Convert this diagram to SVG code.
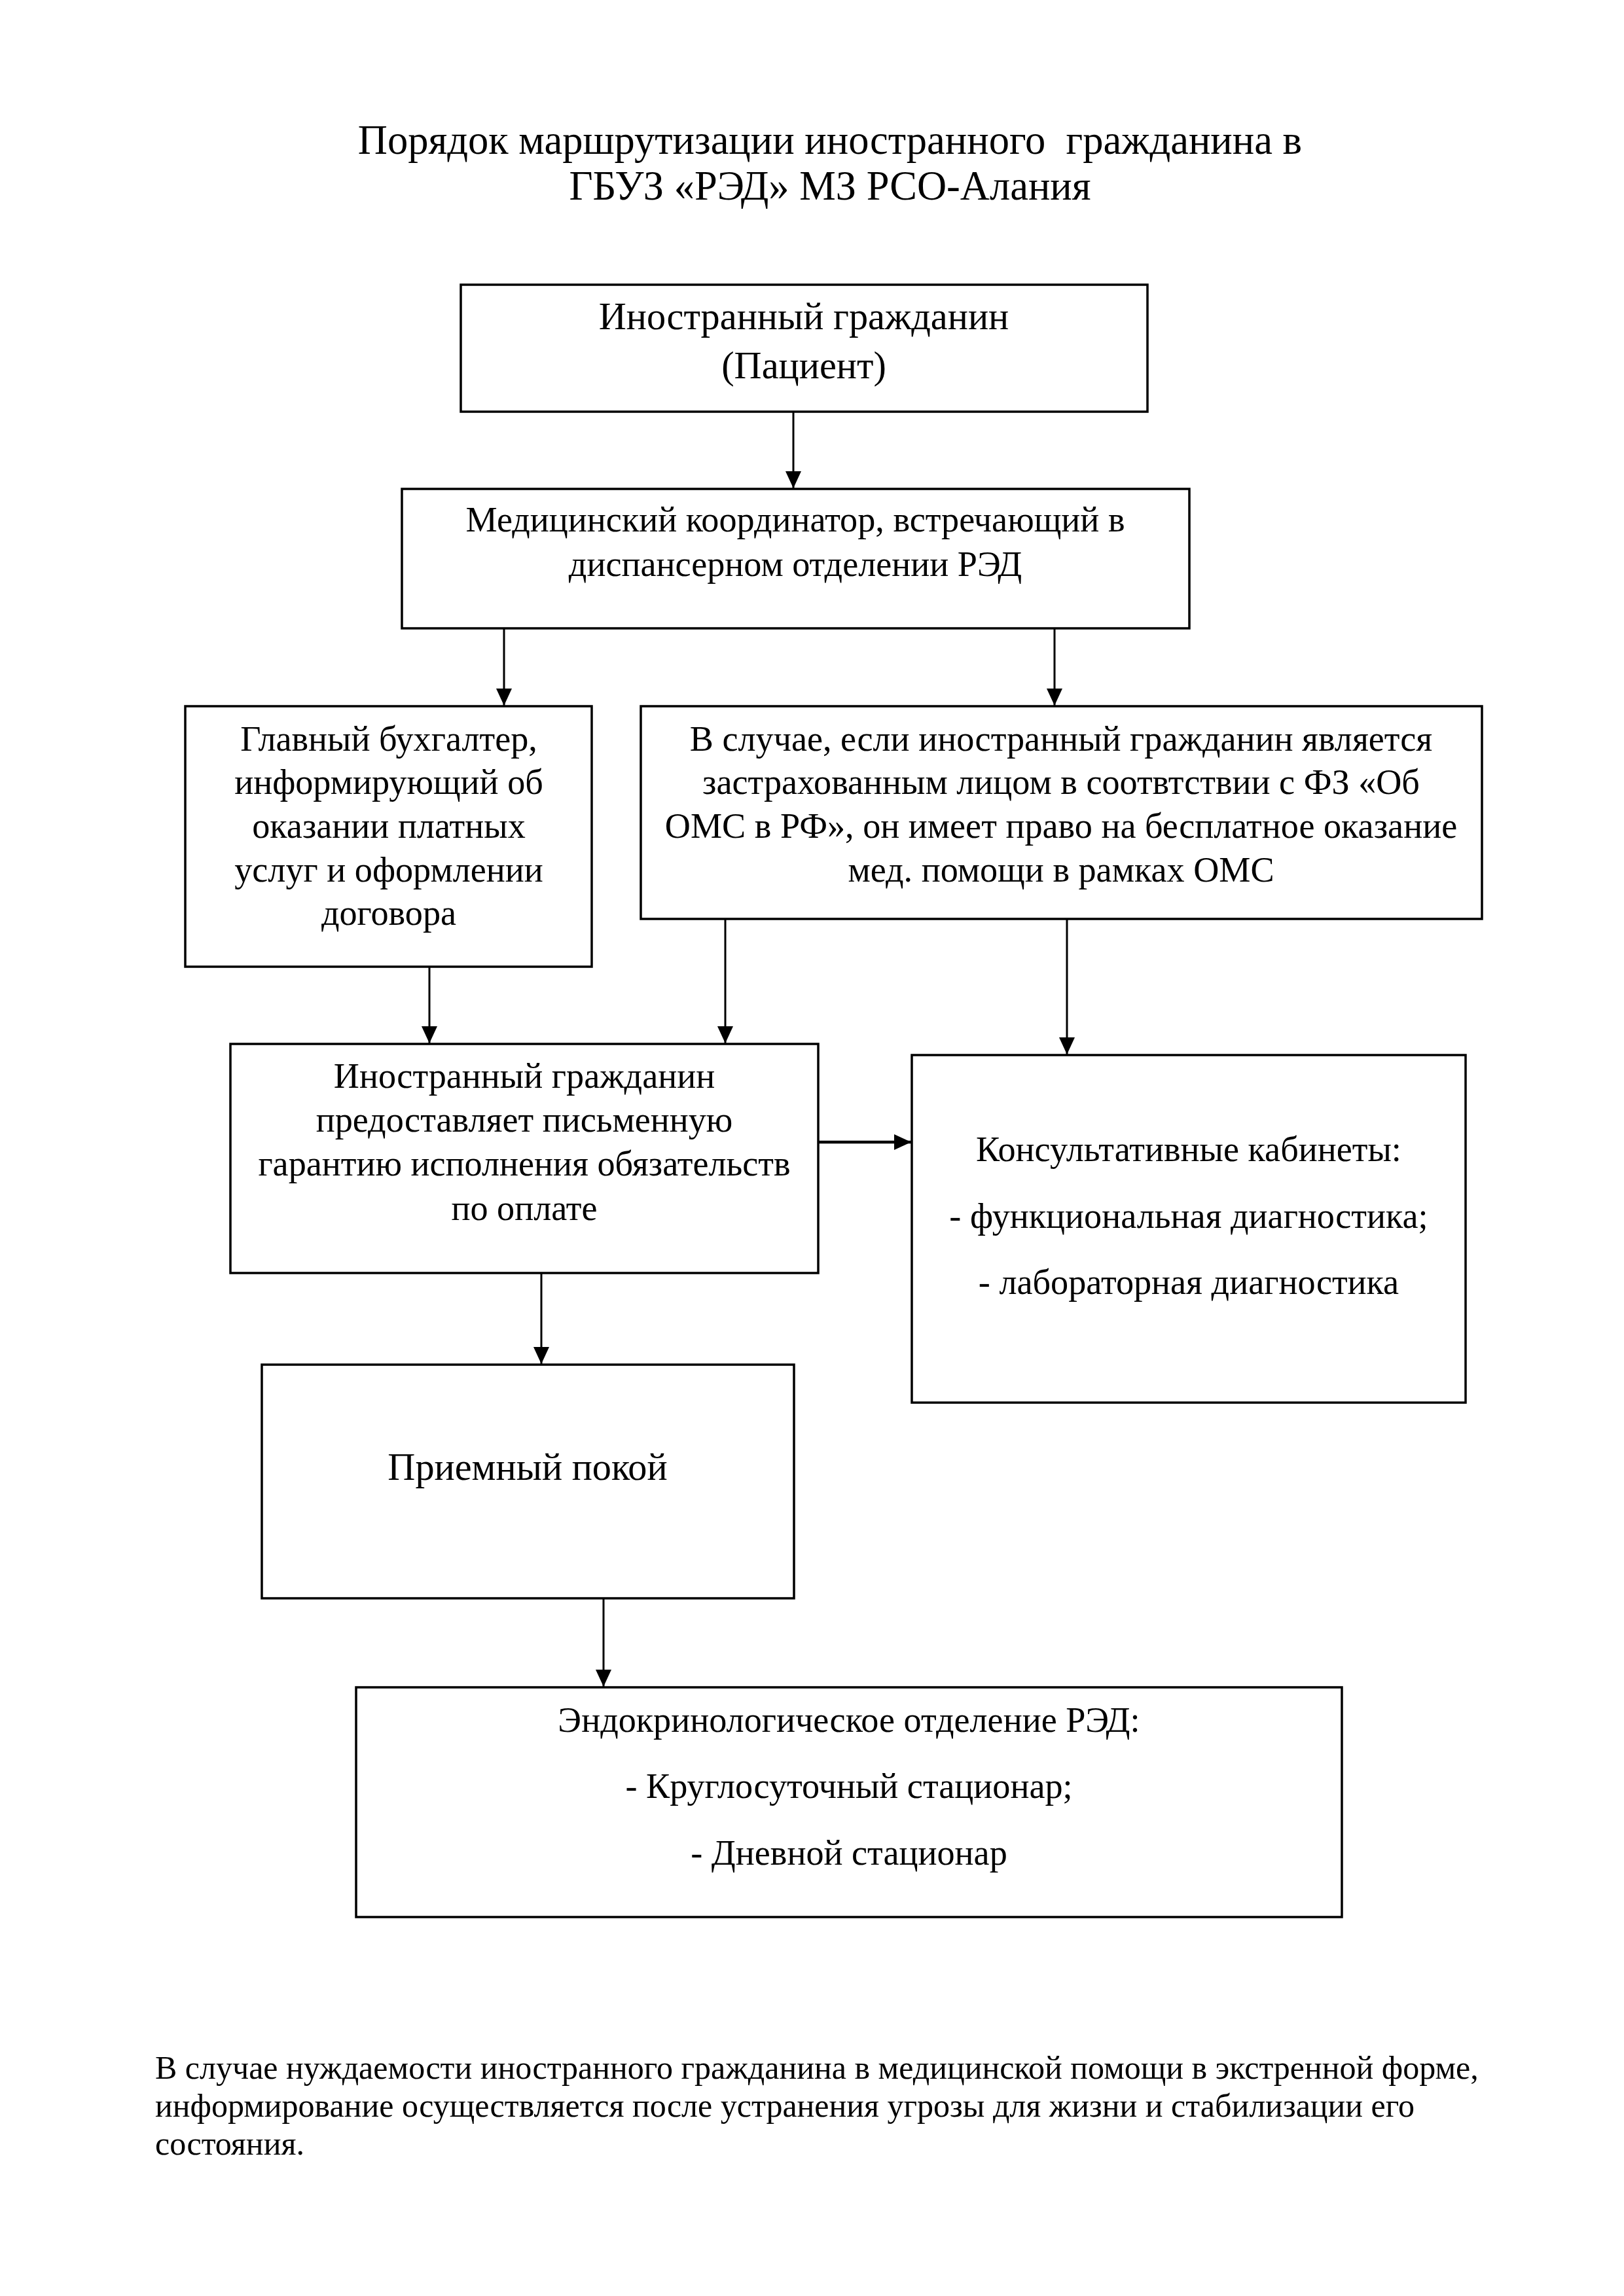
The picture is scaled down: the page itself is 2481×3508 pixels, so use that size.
<svg xmlns="http://www.w3.org/2000/svg" width="2481" height="3508" viewBox="0 0 2481 3508">
<style>
text { font-family: "Liberation Serif", "Times New Roman", serif; fill: #000; }
.t { font-size: 62.5px; text-anchor: middle; }
.b { font-size: 54.2px; text-anchor: middle; }
.bl { font-size: 58.3px; text-anchor: middle; }
.f { font-size: 50px; }
.box { fill: #fff; stroke: #000; stroke-width: 3.5; }
.con { fill: none; stroke: #000; stroke-width: 3; }
.thick { stroke-width: 4.5; }
</style>
<defs>
<marker id="ah" markerUnits="userSpaceOnUse" markerWidth="26" markerHeight="26" viewBox="0 0 26 26" refX="26" refY="13" orient="auto">
<path d="M0,1 L26,13 L0,25 Z" fill="#000"/>
</marker>
</defs>
<rect width="2481" height="3508" fill="#fff"/>

<g id="title">
<text class="t" x="1268" y="235" xml:space="preserve">Порядок маршрутизации иностранного  гражданина в</text>
<text class="t" x="1268" y="305">ГБУЗ «РЭД» МЗ РСО-Алания</text>
</g>

<g id="connectors">
<line class="con" x1="1212" y1="629" x2="1212" y2="746" marker-end="url(#ah)"/>
<line class="con" x1="770" y1="960" x2="770" y2="1078" marker-end="url(#ah)"/>
<line class="con" x1="1611" y1="960" x2="1611" y2="1078" marker-end="url(#ah)"/>
<line class="con" x1="656" y1="1477" x2="656" y2="1594" marker-end="url(#ah)"/>
<line class="con" x1="1108" y1="1404" x2="1108" y2="1594" marker-end="url(#ah)"/>
<line class="con" x1="1630" y1="1404" x2="1630" y2="1611" marker-end="url(#ah)"/>
<line class="con thick" x1="1250" y1="1745" x2="1392" y2="1745" marker-end="url(#ah)"/>
<line class="con" x1="827" y1="1945" x2="827" y2="2084" marker-end="url(#ah)"/>
<line class="con" x1="922" y1="2442" x2="922" y2="2577" marker-end="url(#ah)"/>
</g>

<g id="n1">
<rect class="box" x="704" y="435" width="1049" height="194"/>
<text class="bl" x="1228" y="503">Иностранный гражданин</text>
<text class="bl" x="1228" y="578">(Пациент)</text>
</g>

<g id="n2">
<rect class="box" x="614" y="747" width="1203" height="213"/>
<text class="b" x="1215" y="812">Медицинский координатор, встречающий в</text>
<text class="b" x="1215" y="880">диспансерном отделении РЭД</text>
</g>

<g id="n3">
<rect class="box" x="283" y="1079" width="621" height="398"/>
<text class="b" x="594" y="1147">Главный бухгалтер,</text>
<text class="b" x="594" y="1213">информирующий об</text>
<text class="b" x="594" y="1280">оказании платных</text>
<text class="b" x="594" y="1347">услуг и оформлении</text>
<text class="b" x="594" y="1413">договора</text>
</g>

<g id="n4">
<rect class="box" x="979" y="1079" width="1285" height="325"/>
<text class="b" x="1621" y="1147">В случае, если иностранный гражданин является</text>
<text class="b" x="1621" y="1213">застрахованным лицом в соотвтствии с ФЗ «Об</text>
<text class="b" x="1621" y="1280">ОМС в РФ», он имеет право на бесплатное оказание</text>
<text class="b" x="1621" y="1347">мед. помощи в рамках ОМС</text>
</g>

<g id="n5">
<rect class="box" x="352" y="1595" width="898" height="350"/>
<text class="b" x="801" y="1662">Иностранный гражданин</text>
<text class="b" x="801" y="1729">предоставляет письменную</text>
<text class="b" x="801" y="1796">гарантию исполнения обязательств</text>
<text class="b" x="801" y="1864">по оплате</text>
</g>

<g id="n6">
<rect class="box" x="1393" y="1612" width="846" height="531"/>
<text class="b" x="1816" y="1774">Консультативные кабинеты:</text>
<text class="b" x="1816" y="1876">- функциональная диагностика;</text>
<text class="b" x="1816" y="1977">- лабораторная диагностика</text>
</g>

<g id="n7">
<rect class="box" x="400" y="2085" width="813" height="357"/>
<text class="bl" x="806" y="2261">Приемный покой</text>
</g>

<g id="n8">
<rect class="box" x="544" y="2578" width="1506" height="351"/>
<text class="b" x="1297" y="2646">Эндокринологическое отделение РЭД:</text>
<text class="b" x="1297" y="2747">- Круглосуточный стационар;</text>
<text class="b" x="1297" y="2849">- Дневной стационар</text>
</g>

<g id="footer">
<text class="f" x="237" y="3176">В случае нуждаемости иностранного гражданина в медицинской помощи в экстренной форме,</text>
<text class="f" x="237" y="3234">информирование осуществляется после устранения угрозы для жизни и стабилизации его</text>
<text class="f" x="237" y="3292">состояния.</text>
</g>
</svg>
